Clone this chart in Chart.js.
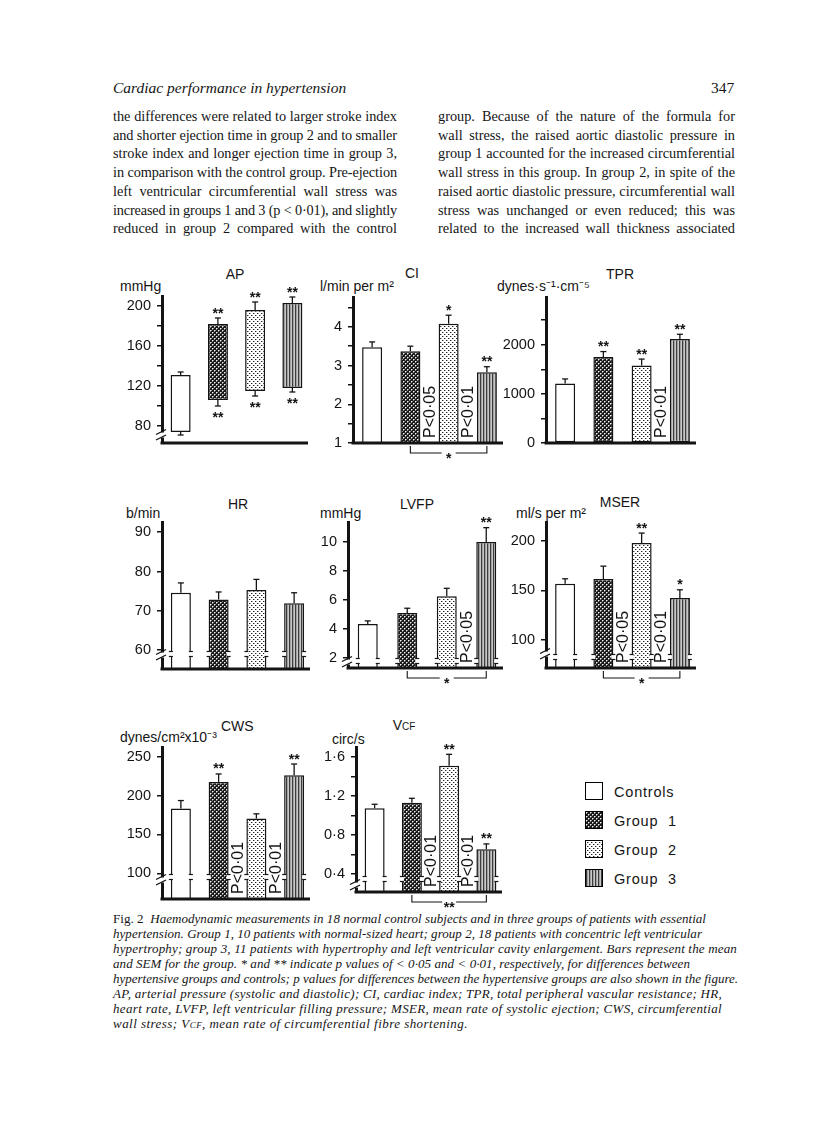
<!DOCTYPE html>
<html>
<head>
<meta charset="utf-8">
<script src="https://cdn.jsdelivr.net/npm/chart.js@4.4.0/dist/chart.umd.min.js"></script>
<style>
  body { margin: 0; background: #fff; }
  #page { position: relative; width: 816px; height: 1121px; overflow: hidden; color: #151515; }
  .jl { position: absolute; white-space: nowrap; font-family: "Liberation Serif", serif; font-size: 14.3px; line-height: 1; transform: translateY(-50%); }
  .cap { position: absolute; white-space: nowrap; font-family: "Liberation Serif", serif; font-style: italic; font-size: 13px; line-height: 1; transform: translateY(-50%); }
  .lab { position: absolute; white-space: nowrap; font-family: "Liberation Sans", sans-serif; font-size: 14px; line-height: 1; transform: translateY(-50%); }
  .ctr { transform: translate(-50%, -50%); }
  .cv { position: absolute; }
  .sw { position: absolute; left: 585px; width: 16px; height: 16px; border: 1.5px solid #000; }
  .lg { position: absolute; left: 614px; font-family: "Liberation Sans", sans-serif; font-size: 14.5px; letter-spacing: 0.8px; line-height: 1; transform: translateY(-50%); }
</style>
</head>
<body>
<div id="page">
  <div class="jl" style="left:113px;top:88px;font-style:italic;font-size:15.5px">Cardiac performance in hypertension</div>
  <div class="jl" style="left:711px;top:88px;font-size:15.5px">347</div>

  <div class="jl j" data-w="284" style="left:113px;top:116px">the differences were related to larger stroke index</div>
  <div class="jl j" data-w="284" style="left:113px;top:134.7px">and shorter ejection time in group 2 and to smaller</div>
  <div class="jl j" data-w="284" style="left:113px;top:153.4px">stroke index and longer ejection time in group 3,</div>
  <div class="jl j" data-w="284" style="left:113px;top:172.1px">in comparison with the control group. Pre-ejection</div>
  <div class="jl j" data-w="284" style="left:113px;top:190.8px">left ventricular circumferential wall stress was</div>
  <div class="jl j" data-w="284" style="left:113px;top:209.5px">increased in groups 1 and 3 (p &lt; 0·01), and slightly</div>
  <div class="jl j" data-w="284" style="left:113px;top:228.2px">reduced in group 2 compared with the control</div>

  <div class="jl j" data-w="297" style="left:438px;top:116px">group. Because of the nature of the formula for</div>
  <div class="jl j" data-w="297" style="left:438px;top:134.7px">wall stress, the raised aortic diastolic pressure in</div>
  <div class="jl j" data-w="297" style="left:438px;top:153.4px">group 1 accounted for the increased circumferential</div>
  <div class="jl j" data-w="297" style="left:438px;top:172.1px">wall stress in this group. In group 2, in spite of the</div>
  <div class="jl j" data-w="297" style="left:438px;top:190.8px">raised aortic diastolic pressure, circumferential wall</div>
  <div class="jl j" data-w="297" style="left:438px;top:209.5px">stress was unchanged or even reduced; this was</div>
  <div class="jl j" data-w="297" style="left:438px;top:228.2px">related to the increased wall thickness associated</div>

  <!-- panel titles and units -->
  <div class="lab ctr" style="left:235px;top:274px">AP</div>
  <div class="lab" style="left:120px;top:286px">mmHg</div>
  <div class="lab ctr" style="left:412px;top:273px">CI</div>
  <div class="lab" style="left:320px;top:286px">l/min per m²</div>
  <div class="lab ctr" style="left:620px;top:274px">TPR</div>
  <div class="lab" style="left:497px;top:286px">dynes·s⁻¹·cm⁻⁵</div>

  <div class="lab ctr" style="left:238px;top:504px">HR</div>
  <div class="lab" style="left:126px;top:513px">b/min</div>
  <div class="lab ctr" style="left:417px;top:504px">LVFP</div>
  <div class="lab" style="left:320px;top:513px">mmHg</div>
  <div class="lab ctr" style="left:620px;top:502px">MSER</div>
  <div class="lab" style="left:516px;top:513px">ml/s per m²</div>

  <div class="lab" style="left:120px;top:737px">dynes/cm²x10⁻³</div>
  <div class="lab" style="left:221px;top:726px">CWS</div>
  <div class="lab ctr" style="left:404px;top:725px">V<span style="font-size:10px">CF</span></div>
  <div class="lab" style="left:332px;top:739px">circ/s</div>

  <!-- legend -->
  <div class="sw" id="sw0" style="top:782px"></div>
  <div class="sw" id="sw1" style="top:811px"></div>
  <div class="sw" id="sw2" style="top:840px"></div>
  <div class="sw" id="sw3" style="top:869px"></div>
  <div class="lg" style="top:792px">Controls</div>
  <div class="lg" style="top:821px">Group&nbsp; 1</div>
  <div class="lg" style="top:850px">Group&nbsp; 2</div>
  <div class="lg" style="top:879px">Group&nbsp; 3</div>

  <!-- caption -->
  <div class="cap c" data-w="593" style="left:113px;top:918px"><span style="font-style:normal">Fig. 2</span>&nbsp; Haemodynamic measurements in 18 normal control subjects and in three groups of patients with essential</div>
  <div class="cap c" data-w="589" style="left:113px;top:933px">hypertension. Group 1, 10 patients with normal-sized heart; group 2, 18 patients with concentric left ventricular</div>
  <div class="cap c" data-w="624" style="left:113px;top:948px">hypertrophy; group 3, 11 patients with hypertrophy and left ventricular cavity enlargement. Bars represent the mean</div>
  <div class="cap c" data-w="577" style="left:113px;top:963px">and SEM for the group. * and ** indicate p values of &lt; 0·05 and &lt; 0·01, respectively, for differences between</div>
  <div class="cap c" data-w="625" style="left:113px;top:978px">hypertensive groups and controls; p values for differences between the hypertensive groups are also shown in the figure.</div>
  <div class="cap c" data-w="609" style="left:113px;top:993px">AP, arterial pressure (systolic and diastolic); CI, cardiac index; TPR, total peripheral vascular resistance; HR,</div>
  <div class="cap c" data-w="609" style="left:113px;top:1008px">heart rate, LVFP, left ventricular filling pressure; MSER, mean rate of systolic ejection; CWS, circumferential</div>
  <div class="cap c" data-w="355" style="left:113px;top:1023px">wall stress; V<span style="font-size:9px">CF</span>, mean rate of circumferential fibre shortening.</div>
</div>

<script>
const groups = ['Controls', 'Group 1', 'Group 2', 'Group 3'];

// AP (mmHg): systolic = bar top, diastolic = bar bottom, mean and SEM
const apSys = [131, 182, 196, 203];
const apSysSem = [3, 6, 8, 6];
const apDia = [74, 106, 115, 118];
const apDiaSem = [3, 6, 5, 4];
const apStarsTop = ['', '**', '**', '**'];
const apStarsBottom = ['', '**', '**', '**'];
const apTicks = [80, 100, 120, 140, 160, 180, 200];
const apTickLabels = [80, 120, 160, 200];

// CI (l/min per m2)
const ciMean = [3.47, 3.37, 4.08, 2.83];
const ciSem = [0.14, 0.13, 0.22, 0.14];
const ciStars = ['', '', '*', '**'];
const ciP = ['', 'P<0·05', 'P<0·01'];   // text between bar i and bar i+1
const ciBracket = [1, 3, '*'];
const ciTicks = [1, 1.5, 2, 2.5, 3, 3.5, 4, 4.5];
const ciTickLabels = [1, 2, 3, 4];

// TPR (dynes s-1 cm-5)
const tprMean = [1208, 1747, 1578, 2117];
const tprSem = [95, 113, 129, 95];
const tprStars = ['', '**', '**', '**'];
const tprP = ['', '', 'P<0·01'];
const tprTicks = [0, 500, 1000, 1500, 2000, 2500];
const tprTickLabels = [0, 1000, 2000];

// HR (b/min)
const hrMean = [74.6, 72.9, 75.3, 71.9];
const hrSem = [2.5, 1.9, 2.7, 2.7];
const hrTicks = [60, 70, 80, 90];

// LVFP (mmHg)
const lvfpMean = [4.34, 5.1, 6.24, 9.98];
const lvfpSem = [0.21, 0.32, 0.55, 0.98];
const lvfpStars = ['', '', '', '**'];
const lvfpP = ['', '', 'P<0·05'];
const lvfpBracket = [1, 3, '*'];
const lvfpTicks = [2, 4, 6, 8, 10];

// MSER (ml/s per m2)
const mserMean = [156.8, 161.5, 197.9, 142.3];
const mserSem = [5, 13.1, 10.1, 8.4];
const mserStars = ['', '', '**', '*'];
const mserP = ['', 'P<0·05', 'P<0·01'];
const mserBracket = [1, 3, '*'];
const mserTicks = [100, 150, 200];

// CWS (dynes/cm2 x 10-3)
const cwsMean = [183.3, 217.6, 170.5, 226];
const cwsSem = [10.3, 10.2, 6, 14.6];
const cwsStars = ['', '**', '', '**'];
const cwsP = ['', 'P<0·01', 'P<0·01'];
const cwsTicks = [100, 150, 200, 250];

// VCF (circ/s)
const vcfMean = [1.073, 1.13, 1.508, 0.654];
const vcfSem = [0.041, 0.045, 0.117, 0.054];
const vcfStars = ['', '', '**', '**'];
const vcfP = ['', 'P<0·01', 'P<0·01'];
const vcfBracket = [1, 3, '**'];
const vcfTicks = [0.4, 0.6, 0.8, 1.0, 1.2, 1.4, 1.6];
const vcfTickLabels = [0.4, 0.8, 1.2, 1.6];

const INK = '#141414';
const SANS = '"Liberation Sans", Arial, sans-serif';
const PAD = 24;

// fill tiles for the bars
function tile(kind) {
    const c = document.createElement('canvas');
    const g = c.getContext('2d');
    if (kind === 1) {
        c.width = 4; c.height = 4;
        g.fillStyle = '#1a1a1a'; g.fillRect(0, 0, 4, 4);
        g.fillStyle = '#f4f4f4'; g.fillRect(0, 0, 1, 1); g.fillRect(2, 2, 1, 1);
        g.fillStyle = '#8a8a8a'; g.fillRect(1, 0, 1, 1); g.fillRect(3, 2, 1, 1); g.fillRect(0, 1, 1, 1); g.fillRect(2, 3, 1, 1);
    } else if (kind === 2) {
        c.width = 4; c.height = 4;
        g.fillStyle = '#fff'; g.fillRect(0, 0, 4, 4);
        g.fillStyle = '#222'; g.fillRect(1, 1, 1, 1); g.fillRect(3, 3, 1, 1);
        g.fillStyle = '#aaa'; g.fillRect(2, 1, 1, 1); g.fillRect(0, 3, 1, 1);
    } else {
        c.width = 3; c.height = 1;
        g.fillStyle = '#3c3c3c'; g.fillRect(0, 0, 1, 1);
        g.fillStyle = '#a0a0a0'; g.fillRect(1, 0, 1, 1);
        g.fillStyle = '#c8c8c8'; g.fillRect(2, 0, 1, 1);
    }
    return c;
}
const tiles = [null, tile(1), tile(2), tile(3)];
const pctx = document.createElement('canvas').getContext('2d');
const fills = tiles.map(t => t ? pctx.createPattern(t, 'repeat') : '#ffffff');

tiles.forEach((t, i) => {
    const sw = document.getElementById('sw' + i);
    if (t) sw.style.backgroundImage = 'url(' + t.toDataURL() + ')';
    else sw.style.background = '#fff';
});

function seg(ctx, x1, y1, x2, y2) {
    ctx.beginPath(); ctx.moveTo(x1, y1); ctx.lineTo(x2, y2); ctx.stroke();
}

function starText(ctx, txt, x, yc) {
    ctx.font = 'bold 14px ' + SANS;
    ctx.textAlign = 'center';
    ctx.textBaseline = 'alphabetic';
    ctx.fillText(txt, x, yc + 7.5);
}

function decor(s) {
    return {
        id: 'decor',
        afterDatasetsDraw(chart) {
            const ctx = chart.ctx, a = chart.chartArea, y = chart.scales.y;
            const bars = chart.getDatasetMeta(0).data;
            ctx.save();
            ctx.strokeStyle = INK; ctx.fillStyle = INK;

            // bar breaks
            if (s.barBreak) {
                const yb = a.bottom - s.barBreak;
                bars.forEach(b => {
                    [b.x - b.width / 2, b.x + b.width / 2].forEach(ex => {
                        ctx.fillStyle = '#fff';
                        ctx.fillRect(ex - 2, yb - 2, 4, 4);
                        ctx.fillStyle = INK;
                        ctx.lineWidth = 1.2;
                        seg(ctx, ex - 2, yb - 2.5, ex + 2, yb - 2.5);
                        seg(ctx, ex - 2, yb + 2.5, ex + 2, yb + 2.5);
                    });
                });
            }

            // baseline
            ctx.lineWidth = 3;
            seg(ctx, a.left - 1.5, a.bottom, a.right - 3, a.bottom);

            // axis break
            if (s.axisBreak) {
                const ya = a.bottom - s.axisBreak;
                ctx.fillStyle = '#fff';
                ctx.fillRect(a.left - 3, ya - 2.5, 6, 5);
                ctx.fillStyle = INK;
                ctx.lineWidth = 1.3;
                seg(ctx, a.left - 6, ya - 0.5, a.left + 4, ya - 5.5);
                seg(ctx, a.left - 6, ya + 5, a.left + 4, ya);
            }

            // error bars and stars
            ctx.lineWidth = 1.3;
            bars.forEach((b, i) => {
                const t = y.getPixelForValue(s.hi[i]);
                const e = y.getPixelForValue(s.hi[i] + s.hiSem[i]);
                seg(ctx, b.x, t, b.x, e);
                seg(ctx, b.x - 3, e, b.x + 3, e);
                if (s.stars && s.stars[i]) starText(ctx, s.stars[i], b.x, e - 8);
                if (s.lo) {
                    const bt = y.getPixelForValue(s.lo[i]);
                    const eb = y.getPixelForValue(s.lo[i] - s.loSem[i]);
                    seg(ctx, b.x, bt, b.x, eb);
                    seg(ctx, b.x - 3, eb, b.x + 3, eb);
                    if (s.starsLo && s.starsLo[i]) starText(ctx, s.starsLo[i], b.x, eb + 8);
                }
            });

            // vertical p labels between bars
            if (s.p) {
                ctx.font = '16px ' + SANS;
                ctx.textAlign = 'left';
                ctx.textBaseline = 'middle';
                s.p.forEach((txt, i) => {
                    if (!txt) return;
                    const x = (bars[i].x + bars[i + 1].x) / 2;
                    ctx.save();
                    ctx.translate(x + 1, a.bottom - 5);
                    ctx.rotate(-Math.PI / 2);
                    ctx.fillText(txt, 0, 0);
                    ctx.restore();
                });
            }

            // bracket under the axis
            if (s.bracket) {
                const [i0, i1, txt] = s.bracket;
                const x0 = bars[i0].x, x1 = bars[i1].x, m = (x0 + x1) / 2;
                const yb = a.bottom + 10;
                ctx.lineWidth = 1.1;
                ctx.beginPath();
                ctx.moveTo(x0, a.bottom + 3); ctx.lineTo(x0, yb); ctx.lineTo(m - 7, yb);
                ctx.moveTo(m + 7, yb); ctx.lineTo(x1, yb); ctx.lineTo(x1, a.bottom + 3);
                ctx.stroke();
                starText(ctx, txt, m, yb + 2);
            }
            ctx.restore();
        }
    };
}

function makeChart(s) {
    const cv = document.createElement('canvas');
    cv.width = 50 + s.plotW + 12;
    cv.height = s.bottom - s.top + 2 * PAD;
    cv.className = 'cv';
    cv.style.left = (s.axisX - 50) + 'px';
    cv.style.top = (s.top - PAD) + 'px';
    document.getElementById('page').appendChild(cv);
    const labels = s.labels || s.ticks;
    const fmt = s.fmt || (v => String(v));

    new Chart(cv, {
        type: 'bar',
        data: {
            labels: groups,
            datasets: [{
                data: s.data,
                backgroundColor: fills,
                borderColor: INK,
                borderWidth: 1.5,
                borderSkipped: false,
                barPercentage: 20 / (s.plotW / 4),
                categoryPercentage: 1
            }]
        },
        options: {
            responsive: false,
            animation: false,
            events: [],
            layout: { padding: { top: PAD, bottom: PAD, left: 0, right: 12 } },
            plugins: { legend: { display: false }, tooltip: { enabled: false } },
            scales: {
                x: { display: false },
                y: {
                    min: s.min,
                    max: s.max,
                    afterFit: sc => { sc.width = 50; },
                    afterBuildTicks: sc => { sc.ticks = s.ticks.map(v => ({ value: v })); },
                    border: { display: true, color: INK, width: 3 },
                    grid: { drawOnChartArea: false, color: INK, lineWidth: 1.5, tickLength: 5 },
                    ticks: {
                        color: INK,
                        padding: 6,
                        font: { family: SANS, size: 14.5 },
                        callback: v => labels.includes(v) ? fmt(v) : ''
                    }
                }
            }
        },
        plugins: [decor(s)]
    });
}

makeChart({ axisX: 162, top: 296, bottom: 443, min: 63, max: 210, plotW: 149,
    data: groups.map((g, i) => [apDia[i], apSys[i]]),
    hi: apSys, hiSem: apSysSem, lo: apDia, loSem: apDiaSem,
    stars: apStarsTop, starsLo: apStarsBottom,
    ticks: apTicks, labels: apTickLabels, axisBreak: 8 });

makeChart({ axisX: 353, top: 297, bottom: 443, min: 1, max: 4.77, plotW: 153,
    data: ciMean, hi: ciMean, hiSem: ciSem, stars: ciStars, p: ciP, bracket: ciBracket,
    ticks: ciTicks, labels: ciTickLabels });

makeChart({ axisX: 546, top: 297, bottom: 443, min: 0, max: 2970, plotW: 153,
    data: tprMean, hi: tprMean, hiSem: tprSem, stars: tprStars, p: tprP,
    ticks: tprTicks, labels: tprTickLabels });

makeChart({ axisX: 162, top: 522, bottom: 669, min: 55.2, max: 92.6, plotW: 151,
    data: hrMean, hi: hrMean, hiSem: hrSem,
    ticks: hrTicks, axisBreak: 14, barBreak: 15 });

makeChart({ axisX: 348, top: 522, bottom: 668, min: 1.31, max: 11.35, plotW: 158,
    data: lvfpMean, hi: lvfpMean, hiSem: lvfpSem, stars: lvfpStars, p: lvfpP, bracket: lvfpBracket,
    ticks: lvfpTicks, axisBreak: 6, barBreak: 7 });

makeChart({ axisX: 546, top: 522, bottom: 668, min: 71.7, max: 219.2, plotW: 153,
    data: mserMean, hi: mserMean, hiSem: mserSem, stars: mserStars, p: mserP, bracket: mserBracket,
    ticks: mserTicks, axisBreak: 14, barBreak: 11 });

makeChart({ axisX: 162, top: 747, bottom: 899, min: 66.9, max: 262.5, plotW: 151,
    data: cwsMean, hi: cwsMean, hiSem: cwsSem, stars: cwsStars, p: cwsP,
    ticks: cwsTicks, axisBreak: 19, barBreak: 22 });

makeChart({ axisX: 356, top: 747, bottom: 892, min: 0.216, max: 1.70, plotW: 149,
    data: vcfMean, hi: vcfMean, hiSem: vcfSem, stars: vcfStars, p: vcfP, bracket: vcfBracket,
    ticks: vcfTicks, labels: vcfTickLabels, fmt: v => v.toFixed(1).replace('.', '·'),
    axisBreak: 7, barBreak: 13 });

// justify body lines and fit caption lines to the measured widths
document.querySelectorAll('.j, .c').forEach(el => {
    const w = +el.dataset.w;
    const nat = el.getBoundingClientRect().width;
    const txt = el.textContent;
    const sp = (txt.match(/ /g) || []).length;
    if (el.classList.contains('j') && nat < w && sp) el.style.wordSpacing = ((w - nat) / sp) + 'px';
    else el.style.letterSpacing = ((w - nat) / txt.length) + 'px';
});
</script>
</body>
</html>
